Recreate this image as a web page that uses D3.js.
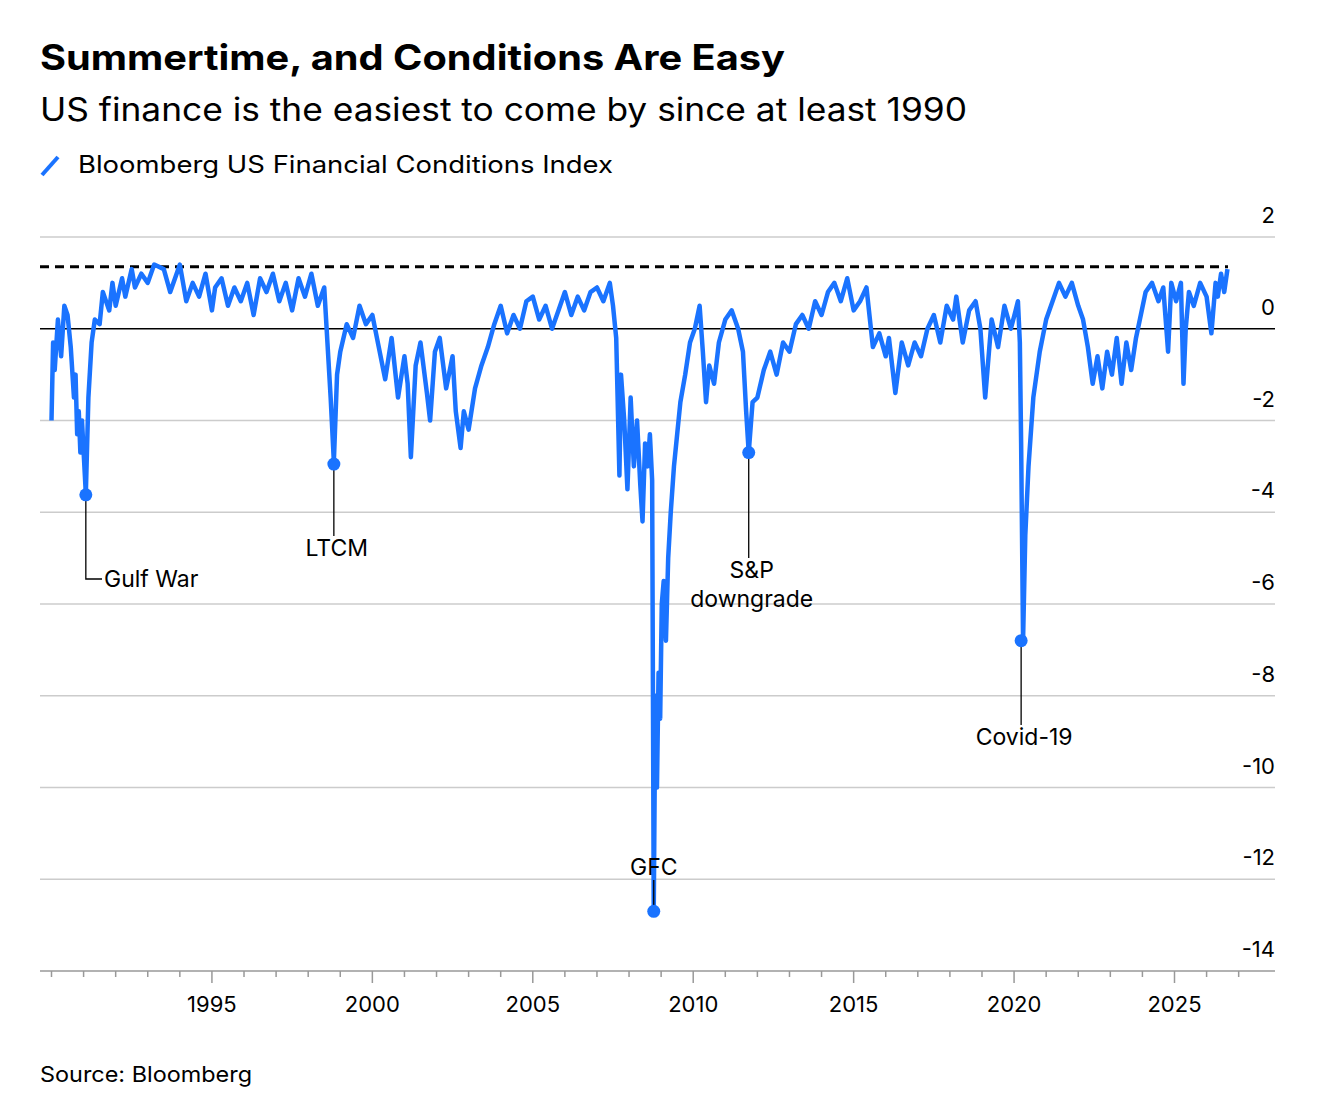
<!DOCTYPE html>
<html><head><meta charset="utf-8">
<script src="https://cdn.jsdelivr.net/npm/d3@7"></script>
<style>body{margin:0;background:#fff;font-family:Inter,"Liberation Sans",Arial,sans-serif}</style>
</head><body><svg id="c" width="1318" height="1112"></svg>
<script>
const years=[1990.0,1990.05,1990.1,1990.2,1990.3,1990.4,1990.5,1990.6,1990.7,1990.75,1990.8,1990.85,1990.9,1990.95,1991.07,1991.15,1991.25,1991.35,1991.5,1991.6,1991.8,1991.9,1992.0,1992.2,1992.3,1992.5,1992.6,1992.8,1993.0,1993.2,1993.5,1993.7,1993.9,1994.0,1994.2,1994.4,1994.6,1994.8,1995.0,1995.1,1995.3,1995.5,1995.7,1995.9,1996.1,1996.3,1996.5,1996.7,1996.9,1997.1,1997.3,1997.5,1997.7,1997.9,1998.1,1998.3,1998.5,1998.6,1998.7,1998.8,1998.9,1999.0,1999.2,1999.4,1999.6,1999.8,2000.0,2000.2,2000.4,2000.6,2000.8,2001.0,2001.1,2001.2,2001.35,2001.5,2001.7,2001.8,2001.95,2002.1,2002.3,2002.5,2002.6,2002.75,2002.85,2003.0,2003.2,2003.4,2003.6,2003.8,2004.0,2004.2,2004.4,2004.6,2004.8,2005.0,2005.2,2005.4,2005.6,2005.8,2006.0,2006.2,2006.4,2006.6,2006.8,2007.0,2007.2,2007.4,2007.5,2007.6,2007.7,2007.75,2007.85,2007.95,2008.05,2008.15,2008.25,2008.35,2008.42,2008.5,2008.58,2008.65,2008.72,2008.77,2008.82,2008.87,2008.92,2008.97,2009.02,2009.08,2009.15,2009.22,2009.3,2009.4,2009.5,2009.6,2009.75,2009.9,2010.05,2010.2,2010.3,2010.4,2010.5,2010.65,2010.8,2011.0,2011.2,2011.4,2011.55,2011.65,2011.73,2011.85,2012.0,2012.2,2012.4,2012.6,2012.8,2013.0,2013.2,2013.4,2013.6,2013.8,2014.0,2014.2,2014.4,2014.6,2014.8,2015.0,2015.2,2015.4,2015.6,2015.8,2016.0,2016.1,2016.3,2016.5,2016.7,2016.9,2017.1,2017.3,2017.5,2017.7,2017.9,2018.1,2018.2,2018.4,2018.6,2018.8,2018.95,2019.1,2019.3,2019.5,2019.7,2019.9,2020.05,2020.12,2020.18,2020.22,2020.28,2020.35,2020.45,2020.6,2020.8,2021.0,2021.2,2021.4,2021.6,2021.8,2022.0,2022.15,2022.3,2022.45,2022.6,2022.75,2022.9,2023.05,2023.2,2023.35,2023.5,2023.65,2023.8,2023.95,2024.1,2024.3,2024.5,2024.65,2024.8,2024.9,2025.05,2025.2,2025.28,2025.35,2025.45,2025.6,2025.8,2026.0,2026.15,2026.28,2026.35,2026.45,2026.55,2026.65];
const fci=[-2.0,-0.3,-0.9,0.2,-0.6,0.5,0.3,-0.4,-1.5,-1.0,-2.3,-1.8,-2.7,-2.0,-3.6,-1.5,-0.3,0.2,0.1,0.8,0.4,1.0,0.5,1.1,0.7,1.3,0.9,1.2,1.0,1.4,1.3,0.8,1.2,1.4,0.6,1.0,0.7,1.2,0.4,0.9,1.1,0.5,0.9,0.6,1.0,0.3,1.1,0.8,1.2,0.6,1.0,0.4,1.1,0.7,1.2,0.5,0.9,-0.3,-1.5,-2.9,-1.0,-0.5,0.1,-0.2,0.5,0.1,0.3,-0.4,-1.1,-0.2,-1.5,-0.6,-1.2,-2.8,-0.8,-0.3,-1.4,-2.0,-0.5,-0.2,-1.3,-0.6,-1.8,-2.6,-1.8,-2.2,-1.3,-0.8,-0.4,0.1,0.5,-0.1,0.3,0.0,0.6,0.7,0.2,0.5,0.0,0.4,0.8,0.3,0.7,0.4,0.8,0.9,0.6,1.0,0.5,-0.2,-3.2,-1.0,-2.0,-3.5,-1.5,-3.0,-2.0,-3.4,-4.2,-2.5,-3.0,-2.3,-3.3,-12.7,-8.0,-10.0,-7.5,-8.5,-6.0,-5.5,-6.8,-5.0,-4.0,-3.0,-2.3,-1.6,-1.0,-0.3,0.0,0.5,-0.5,-1.6,-0.8,-1.2,-0.3,0.2,0.4,0.0,-0.5,-1.8,-2.7,-1.6,-1.5,-0.9,-0.5,-1.0,-0.3,-0.5,0.1,0.3,0.0,0.6,0.3,0.8,1.0,0.6,1.1,0.4,0.6,0.9,-0.4,-0.1,-0.6,-0.2,-1.4,-0.3,-0.8,-0.3,-0.6,0.0,0.3,-0.3,0.5,0.2,0.7,-0.3,0.4,0.6,0.0,-1.5,0.2,-0.4,0.5,0.0,0.4,0.6,-0.3,-2.5,-6.8,-4.5,-3.0,-1.5,-0.5,0.2,0.6,1.0,0.7,1.0,0.5,0.2,-0.4,-1.2,-0.6,-1.3,-0.5,-1.0,-0.2,-1.2,-0.3,-0.9,-0.2,0.3,0.8,1.0,0.6,0.9,-0.5,1.0,0.6,1.0,-1.2,0.0,0.8,0.5,1.0,0.7,-0.1,1.0,0.7,1.2,0.8,1.3];
const yTicks=[2,0,-2,-4,-6,-8,-10,-12,-14];
const xTicks=[1995,2000,2005,2010,2015,2020,2025];
const refLevel=1.35;
const notes=[{t:"Gulf War",x:1991.07,v:-3.62},{t:"LTCM",x:1998.8,v:-2.95},{t:"GFC",x:2008.77,v:-12.7},{t:"S&P|downgrade",x:2011.73,v:-2.7},{t:"Covid-19",x:2020.22,v:-6.8}];

const svg=d3.select("#c");
const x=d3.scaleLinear().domain([1990,2025]).range([51.5,1174.5]);
const y=d3.scaleLinear().domain([2,-14]).range([237,971]);
const L=40,R=1275,blue="#1a73ff";
svg.append("text").attr("x",40).attr("y",70).attr("font-size",35).attr("font-weight","bold").attr("textLength",745).attr("lengthAdjust","spacingAndGlyphs").text("Summertime, and Conditions Are Easy");
svg.append("text").attr("x",40).attr("y",121).attr("font-size",32).attr("textLength",927).attr("lengthAdjust","spacingAndGlyphs").text("US finance is the easiest to come by since at least 1990");
svg.append("line").attr("x1",42).attr("y1",175).attr("x2",58).attr("y2",157).attr("stroke",blue).attr("stroke-width",4);
svg.append("text").attr("x",78).attr("y",173).attr("font-size",24).attr("textLength",535).attr("lengthAdjust","spacingAndGlyphs").text("Bloomberg US Financial Conditions Index");
svg.append("text").attr("x",40).attr("y",1082).attr("font-size",22).attr("textLength",212).attr("lengthAdjust","spacingAndGlyphs").text("Source: Bloomberg");
yTicks.forEach(t=>{
  if(t!==-14&&t!==0) svg.append("line").attr("x1",L).attr("x2",R).attr("y1",y(t)).attr("y2",y(t)).attr("stroke","#ccc").attr("stroke-width",1.5);
  svg.append("text").attr("x",1275).attr("y",y(t)-14).attr("text-anchor","end").attr("font-size",22).text(t);
});
svg.append("line").attr("x1",L).attr("x2",R).attr("y1",y(-14)).attr("y2",y(-14)).attr("stroke","#999").attr("stroke-width",1.5);
svg.append("line").attr("x1",L).attr("x2",R).attr("y1",y(0)).attr("y2",y(0)).attr("stroke","#000").attr("stroke-width",1.5);
d3.range(1990,2028).forEach(yr=>{
  const major=xTicks.includes(yr);
  svg.append("line").attr("x1",x(yr)).attr("x2",x(yr)).attr("y1",971).attr("y2",major?983:977).attr("stroke","#999").attr("stroke-width",1.5);
});
xTicks.forEach(t=>svg.append("text").attr("x",x(t)).attr("y",1012).attr("text-anchor","middle").attr("font-size",22).text(t));
svg.append("line").attr("x1",L).attr("x2",1228).attr("y1",y(refLevel)).attr("y2",y(refLevel)).attr("stroke","#000").attr("stroke-width",3).attr("stroke-dasharray","9,6");
const data=years.map((d,i)=>[d,fci[i]]);
svg.append("path").datum(data).attr("d",d3.line().x(d=>x(d[0])).y(d=>y(d[1]))).attr("fill","none").attr("stroke",blue).attr("stroke-width",4.5).attr("stroke-linejoin","round");
notes.forEach(n=>{
  const cx=x(n.x),cy=y(n.v);
  const g=svg.append("g");
  if(n.t==="Gulf War"){
    g.append("path").attr("d",`M${cx},${cy}V579H102`).attr("fill","none").attr("stroke","#000").attr("stroke-width",1.3);
    g.append("text").attr("x",104).attr("y",587).attr("font-size",23).text(n.t);
  }else if(n.t==="GFC"){
    g.append("line").attr("x1",cx).attr("x2",cx).attr("y1",880).attr("y2",cy).attr("stroke","#000").attr("stroke-width",1.3);
    g.append("text").attr("x",cx).attr("y",875).attr("text-anchor","middle").attr("font-size",23).text(n.t);
  }else{
    const ty={"LTCM":556,"S&P|downgrade":578,"Covid-19":745}[n.t];
    g.append("line").attr("x1",cx).attr("x2",cx).attr("y1",cy).attr("y2",ty-20).attr("stroke","#000").attr("stroke-width",1.3);
    n.t.split("|").forEach((s,i)=>g.append("text").attr("x",cx+3).attr("y",ty+i*29).attr("text-anchor","middle").attr("font-size",23).text(s));
  }
  g.append("circle").attr("cx",cx).attr("cy",cy).attr("r",6.5).attr("fill",blue);
});
</script></body></html>
